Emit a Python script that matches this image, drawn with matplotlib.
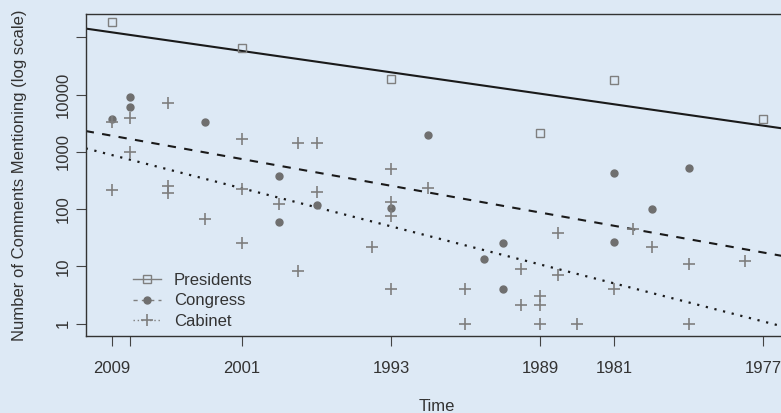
import matplotlib
matplotlib.use("Agg")
import matplotlib.pyplot as plt
from matplotlib.lines import Line2D
import numpy as np

plt.rcParams['font.family'] = ['Liberation Sans', 'DejaVu Sans']

# x positions are ordinal event slots (2009 on the left, 1977 on the right)
tick_pos = [0, 1, 7, 15, 23, 27, 35]
tick_labels = ['2009', '', '2001', '1993', '1989', '1981', '1977']

pres_x = [0, 7, 15, 23, 27, 35]
pres_y = [185000, 64300, 18700, 2150, 17900, 3840]

cong_x = [0, 1, 1, 5, 9, 9, 11, 15, 17, 20, 21, 21, 27, 27, 29, 31]
cong_y = [3840, 9040, 6220, 3300, 380, 60, 120, 103, 1960, 13.3, 26, 4.0,
          437, 27, 100, 534]

cab_x = [0, 0, 1, 1, 3, 3, 3, 5, 7, 7, 7, 9, 10, 10, 11, 11, 14, 15, 15, 15, 15,
         17, 19, 19, 22, 22, 23, 23, 23, 24, 24, 25, 27, 28, 29, 31, 31, 34]
cab_y = [3270, 217, 3880, 1000, 7100, 255, 195, 68.5, 1710, 223, 25.4, 122,
         1460, 8.2, 1460, 200, 21.8, 499, 134, 76, 4.0, 232, 4.0, 1.0, 9.2, 2.1,
         3.0, 2.1, 1.0, 39, 7.0, 1.0, 4.0, 44.5, 21.8, 11.2, 1.0, 12.4]

# fitted trend lines (values at the left and right plot edges)
fit_x = [-1.4, 36.4]
pres_fit = [143000, 2480]
cong_fit = [2320, 14.5]
cab_fit = [1156, 0.836]

bg = '#dde9f5'
pt_col = '#7f7f7f'
dot_col = '#6f6f6f'
txt = '#333333'

fig = plt.figure(figsize=(7.81, 4.13), dpi=100, facecolor=bg)
ax = fig.add_axes([85.7 / 781, 1 - 335.7 / 413, (789.3 - 85.7) / 781, (335.7 - 14) / 413])
ax.set_facecolor(bg)

ax.plot(fit_x, pres_fit, color='#1a1a1a', lw=1.5, solid_capstyle='butt')
ax.plot(fit_x, cong_fit, color='#1a1a1a', lw=1.5, linestyle=(0, (4, 4)))
ax.plot(fit_x, cab_fit, color='#1a1a1a', lw=1.6, linestyle=(0, (1, 3)))

ax.plot(pres_x, pres_y, 's', ms=5.5, mfc='none', mec=pt_col, mew=1.0)
ax.plot(cong_x, cong_y, 'o', ms=5, color=dot_col, mec=dot_col)
ax.plot(cab_x, cab_y, '+', ms=9, mew=1.2, color=pt_col)

ax.set_yscale('log')
ax.set_xlim(-1.4, 36.4)
ax.set_ylim(10 ** -0.21, 10 ** 5.41)

ax.set_yticks([1, 10, 100, 1000, 10000, 100000])
ax.set_yticklabels(['1', '10', '100', '1000', '10000', ''], rotation=90, va='center')
ax.yaxis.set_minor_locator(matplotlib.ticker.NullLocator())
ax.set_xticks(tick_pos)
ax.set_xticklabels(tick_labels)

ax.tick_params(axis='both', direction='out', length=7, width=0.8, colors='#444444',
               labelcolor=txt, labelsize=12)
ax.tick_params(axis='x', pad=11)
ax.tick_params(axis='y', pad=4)

for side in ['left', 'bottom', 'top']:
    ax.spines[side].set_color('#333333')
    ax.spines[side].set_linewidth(1.0)
ax.spines['right'].set_visible(False)

fig.text(436.7 / 781, 1 - 406.7 / 413, 'Time', ha='center', va='center', fontsize=12, color=txt)
fig.text(19.5 / 781, 1 - 175 / 413, 'Number of Comments Mentioning (log scale)', ha='center',
         va='center', rotation=90, fontsize=12, color=txt)

handles = [
    Line2D([], [], color=pt_col, lw=1, marker='s', ms=5.5, mfc='none', mec=pt_col),
    Line2D([], [], color=pt_col, lw=1, linestyle=(0, (3, 3)), marker='o', ms=5, mfc=dot_col, mec=dot_col),
    Line2D([], [], color=pt_col, lw=1, linestyle=(0, (1, 2)), marker='+', ms=9, mew=1.2),
]
leg = ax.legend(handles, ['Presidents', 'Congress', 'Cabinet'], loc='upper left',
                bbox_to_anchor=((133 - 85.7) / 703.6, (335.7 - 273) / 321.7), frameon=False,
                fontsize=12, handlelength=1.7, handletextpad=0.75, labelspacing=0.33,
                borderpad=0, borderaxespad=0)
for t in leg.get_texts():
    t.set_color(txt)

fig.savefig('out.png', dpi=100, facecolor=bg)
